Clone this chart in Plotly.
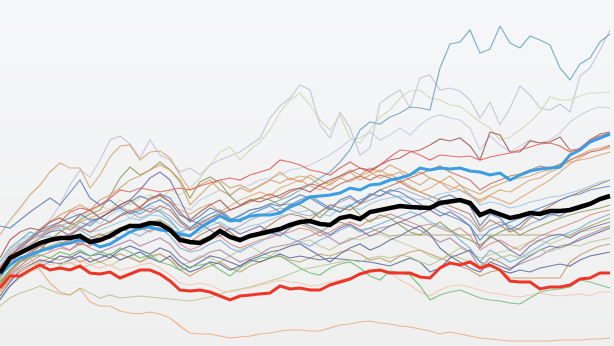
import plotly.graph_objects as go

# x positions: 62 observations (index)
N = 62
WEEKS = list(range(N))

# ---- series values (plotted on a downward-increasing scale, 0 = top) ----
black_main = [273,258,253,248,243,240,238,238,236,242,
              240,236,230,226,226,223,224,230,240,242,
              243,238,231,237,240,236,234,232,229,225,
              222,221,224,225,218,216,219,212,210,208,
              206,207,207,208,203,201,200,203,215,211,
              214,218,216,213,214,211,211,210,207,204,
              199,196]
red_main = [288,276,276,270,265,270,268,270,266,273,
            274,272,278,274,270,270,274,281,290,291,
            290,292,296,300,296,295,294,293,286,289,
            288,290,290,285,282,279,274,271,270,273,
            273,273,277,278,268,263,265,262,268,265,
            270,281,282,282,289,287,287,285,279,278,
            273,273]
blue_main = [275,265,258,255,251,248,245,243,240,242,
             247,244,238,232,228,227,230,231,234,236,
             228,222,216,221,220,216,215,215,213,207,
             203,197,196,195,193,188,190,185,184,180,
             178,175,168,170,168,169,168,171,172,175,
             173,180,175,171,169,168,167,155,150,142,
             138,134]
teal = [262,248,240,232,236,228,225,230,222,226,
        218,222,215,210,214,208,212,220,232,228,
        222,218,212,220,215,210,208,204,200,196,
        190,185,178,172,162,150,130,122,124,117,
        113,107,108,110,68,44,42,30,53,49,
        26,43,48,36,40,45,68,80,64,58,
        42,34]
lavender = [268,255,245,238,230,220,205,185,170,177,
            160,140,136,144,158,140,155,160,172,168,
            175,165,160,156,152,145,138,118,106,98,
            85,90,125,138,112,128,155,148,103,96,
            90,108,78,75,90,88,91,100,118,102,
            125,108,86,95,108,110,104,112,76,68,
            50,30]
khaki = [262,250,242,238,228,222,215,210,218,212,
         206,210,200,205,198,195,200,190,195,188,
         178,165,152,147,160,150,142,130,112,100,
         93,105,120,130,115,138,143,130,117,110,
         98,91,90,98,100,105,106,114,122,128,
         140,137,130,122,112,97,100,100,96,93,
         93,92]
tan_peak = [235,220,208,195,185,172,163,168,168,188,
            175,157,146,145,160,152,151,158,175,190,
            185,180,190,195,188,192,185,180,183,178,
            182,175,180,185,178,172,180,175,170,176,
            172,180,185,178,182,190,185,195,200,195,
            190,192,186,180,178,172,168,160,155,150,
            148,145]
lavender_2 = [268,255,248,240,235,230,225,228,222,218,
              224,215,210,218,212,205,210,203,205,210,
              200,195,190,196,188,185,180,178,175,170,
              168,165,160,155,148,140,138,132,140,135,
              128,135,125,118,115,118,120,128,150,136,
              145,152,146,140,143,140,133,122,115,110,
              107,108]
brown_dark = [258,240,232,228,230,222,218,224,215,210,
              218,212,205,200,208,198,195,202,215,220,
              212,205,200,210,206,200,202,198,195,190,
              188,192,185,180,176,172,168,170,165,160,
              158,152,150,145,139,141,138,146,160,132,
              135,152,152,141,143,142,137,150,150,140,
              134,132]
red_thin = [268,255,248,240,232,228,222,212,208,210,
            205,198,190,192,188,190,192,190,188,190,
            186,183,180,178,180,175,172,169,160,162,
            165,170,172,175,168,162,168,172,165,157,
            150,151,155,160,155,156,157,156,160,157,
            155,153,150,147,144,143,146,152,148,140,
            136,133]
orange_low = [290,272,262,258,270,283,292,295,289,302,
              306,306,311,313,314,312,314,318,326,333,
              334,334,336,338,337,336,334,333,331,330,
              330,331,331,328,325,324,322,321,323,324,
              326,327,329,331,334,332,334,336,338,339,
              340,341,341,341,341,341,340,340,340,339,
              339,338]
olive_low = [306,298,293,290,286,290,294,295,288,293,
             298,295,298,297,296,297,298,299,300,301,
             299,297,294,291,289,287,284,281,278,274,
             270,268,266,264,262,260,262,258,256,258,
             255,257,262,265,260,255,258,262,265,262,
             258,255,258,255,250,252,248,245,246,242,
             240,238]
green = [282,270,262,258,255,258,252,255,250,256,
         252,255,248,252,258,255,262,265,270,267,
         265,263,270,276,268,262,258,257,256,262,
         268,273,275,268,264,262,268,276,280,271,
         273,275,286,300,295,292,290,294,298,300,
         301,303,304,298,292,290,289,287,280,282,
         285,288]
peach = [290,278,270,266,262,265,262,264,260,265,
         268,265,270,268,265,263,268,275,283,285,
         283,285,290,292,290,288,285,283,280,282,
         283,286,285,282,280,278,275,273,271,272,
         280,285,292,296,290,286,285,287,290,293,
         294,296,297,295,293,295,296,295,294,296,
         292,292]

band_slate = [226,228,220,212,205,198,205,192,180,198,
              205,200,208,202,196,200,194,198,212,222,
              216,208,212,220,216,210,208,204,206,200,
              195,198,204,210,200,196,203,194,196,190,
              192,198,204,210,198,195,200,206,226,214,
              218,230,224,216,220,214,216,210,206,204,
              200,197]
band_lightblue = [262,248,240,236,232,230,228,230,226,232,
                  230,226,222,218,220,215,216,222,232,235,
                  232,226,222,228,230,226,224,220,216,214,
                  212,210,214,216,208,205,210,204,200,198,
                  196,198,200,198,194,192,190,194,205,202,
                  204,208,206,202,200,197,196,193,190,186,
                  182,180]
band_tan = [280,262,250,240,230,222,215,210,205,210,
            200,195,188,180,176,170,165,170,182,205,
            195,185,180,188,185,190,186,180,172,180,
            176,178,185,182,176,170,175,168,172,165,
            170,175,172,178,182,176,185,190,194,188,
            184,180,178,176,172,170,165,162,160,158,
            155,152]
band_olive = [285,272,262,255,250,240,232,226,220,214,
              210,196,178,167,175,170,162,170,180,198,
              182,177,183,196,205,200,198,200,205,204,
              205,210,218,208,212,205,215,222,215,218,
              225,232,235,228,222,230,236,240,245,238,
              232,228,235,230,226,222,218,215,212,210,
              208,205]
band_purple = [276,265,252,246,238,232,230,236,228,222,
               218,212,205,200,190,178,172,180,200,220,
               224,230,236,228,234,230,226,232,236,228,
               222,226,230,235,228,224,230,236,232,226,
               222,218,214,210,216,212,218,226,248,236,
               242,250,256,246,240,236,234,238,232,228,
               225,222]
band_brown = [282,270,260,252,246,250,244,240,245,238,
              234,238,232,226,230,224,222,228,236,242,
              235,230,226,232,240,236,232,225,218,214,
              216,220,212,205,208,210,204,196,190,186,
              182,188,192,196,200,206,210,214,230,220,
              225,232,228,218,212,206,200,196,192,188,
              184,180]
band_rose = [290,276,268,262,256,252,248,250,244,246,
             240,236,238,232,228,232,226,230,244,250,
             246,240,236,244,248,244,240,238,234,232,
             228,230,236,232,226,222,226,220,218,214,
             218,222,226,224,228,232,228,236,250,244,
             240,246,250,242,236,232,228,224,220,215,
             212,210]
band_sky = [268,256,250,244,238,236,240,234,230,236,
            240,236,228,232,236,230,228,236,248,252,
            250,244,240,248,252,246,242,236,232,238,
            242,246,240,236,230,226,232,228,224,220,
            216,212,215,222,226,230,240,248,262,250,
            256,262,258,252,246,240,236,232,228,222,
            218,214]
band_darkslate = [296,282,270,265,260,262,256,258,252,256,
                  254,258,250,246,250,254,248,252,262,268,
                  262,256,258,262,266,260,256,252,250,246,
                  244,250,256,262,254,248,244,250,246,240,
                  236,230,226,234,248,256,262,268,272,262,
                  266,270,262,256,250,246,248,244,240,236,
                  232,228]
band_mauve = [288,274,266,258,252,248,246,250,242,248,
              252,248,244,240,246,242,238,244,256,262,
              258,252,250,256,262,258,254,248,246,244,
              240,236,232,238,244,240,236,232,228,226,
              222,226,230,236,242,238,246,252,268,258,
              262,268,264,260,256,250,246,244,238,234,
              230,226]
band_flat = [284,270,262,256,250,246,242,244,238,242,
             236,232,228,224,228,222,220,226,238,244,
             240,236,232,238,242,236,232,230,228,226,
             224,228,232,226,222,226,230,228,232,236,
             235,235,235,235,235,235,235,235,235,235,
             235,235,235,235,235,235,235,235,230,226,
             222,218]
band_ochre = [292,280,272,266,262,258,260,256,262,258,
              262,258,254,258,262,256,254,260,270,276,
              270,266,262,268,272,266,262,258,256,260,
              262,258,254,256,252,250,254,260,258,262,
              256,252,250,254,258,262,266,270,276,272,
              270,278,278,278,278,278,278,262,255,250,
              246,244]
band_navy = [300,286,276,270,266,262,264,260,256,262,
             258,254,260,256,252,258,262,256,266,272,
             268,262,264,270,266,260,262,258,254,258,
             256,258,260,258,259,260,261,262,264,266,
             262,258,262,272,268,258,254,250,262,266,
             270,273,270,272,268,266,264,266,260,256,
             254,252]
band_sage = [298,286,278,272,268,270,266,262,268,265,
             262,266,260,256,262,258,254,260,266,262,
             256,258,262,256,250,246,252,256,250,246,
             242,240,246,250,244,238,240,236,234,238,
             242,246,250,256,260,254,248,252,258,255,
             252,250,246,242,240,244,240,236,232,230,
             228,226]
band_steel = [272,258,246,238,230,226,222,218,214,220,
              218,212,208,214,210,204,200,206,220,228,
              220,214,210,218,222,214,210,206,212,205,
              200,196,202,208,212,206,200,196,190,194,
              198,204,210,206,212,216,220,226,240,230,
              226,222,218,212,208,204,200,196,194,190,
              188,186]
band_orange = [278,262,252,246,238,230,226,230,222,218,
               214,210,206,212,206,200,196,202,210,214,
               208,204,212,206,200,196,192,196,188,184,
               180,186,190,184,178,182,176,172,178,174,
               180,186,192,188,182,186,190,196,202,196,
               200,204,198,192,186,180,172,164,158,152,
               150,148]
band_gray = [266,252,244,240,236,232,226,222,228,224,
             218,222,216,212,218,214,210,216,226,230,
             226,220,224,230,226,220,216,212,208,210,
             214,216,212,206,202,198,204,200,196,192,
             188,192,196,200,205,210,214,220,232,226,
             222,226,230,224,220,216,212,208,205,202,
             198,195]
band_rust = [286,272,262,254,246,242,238,234,228,232,
             226,222,216,212,208,212,206,210,222,230,
             224,218,214,210,206,202,198,194,198,192,
             188,184,186,190,184,180,176,180,175,178,
             182,178,174,170,166,172,176,180,190,184,
             180,176,174,170,166,168,164,160,156,152,
             150,146]

thin_series = [
    (lavender, "#c2c0d8"), (khaki, "#d4d7b0"), (lavender_2, "#c6cbe0"),
    (tan_peak, "#d6a476"), (teal, "#6aa6bf"),
    (band_gray, "#a3a8bd"), (band_sage, "#c3cb98"), (band_ochre, "#c49a68"),
    (band_navy, "#56659a"), (band_mauve, "#a9879f"), (band_darkslate, "#5e6a98"),
    (band_flat, "#a7a26e"), (band_sky, "#79b0d8"), (band_rose, "#d68c86"),
    (band_brown, "#b47c5c"), (band_purple, "#7d70a2"), (band_olive, "#8d9b58"),
    (band_tan, "#d4a270"), (band_lightblue, "#96c6e4"), (band_slate, "#5c7eb5"),
    (band_steel, "#5289c2"), (band_orange, "#e3a578"), (band_rust, "#c46e58"),
    (brown_dark, "#a65850"), (red_thin, "#e25a52"),
    (orange_low, "#eba97c"), (olive_low, "#b8c58e"), (peach, "#f2c6aa"), (green, "#70bb70"),
]

fig = go.Figure()

for vals, col in thin_series:
    fig.add_trace(go.Scatter(x=WEEKS[:len(vals)], y=vals, mode="lines",
                             line=dict(color=col, width=1.2), opacity=0.85,
                             hoverinfo="skip"))

fig.add_trace(go.Scatter(x=WEEKS, y=blue_main, mode="lines",
                         line=dict(color="#3c9ee2", width=3), hoverinfo="skip"))
fig.add_trace(go.Scatter(x=WEEKS, y=red_main, mode="lines",
                         line=dict(color="#ee3628", width=3), hoverinfo="skip"))
fig.add_trace(go.Scatter(x=WEEKS, y=black_main, mode="lines",
                         line=dict(color="#000000", width=4.5), hoverinfo="skip"))

# background vertical gradient
shapes = []
steps = 30
top = (246, 247, 249)
bot = (239, 239, 239)
for k in range(steps):
    t = k / (steps - 1)
    c = tuple(round(top[j] + (bot[j] - top[j]) * t) for j in range(3))
    shapes.append(dict(type="rect", xref="paper", yref="paper",
                       x0=0, x1=1, y0=1 - (k + 1) / steps, y1=1 - k / steps,
                       fillcolor="rgb(%d,%d,%d)" % c, line=dict(width=0),
                       layer="below"))

fig.update_layout(
    width=614, height=346,
    margin=dict(l=0, r=0, t=0, b=0),
    paper_bgcolor="#f2f3f4", plot_bgcolor="#f2f3f4",
    showlegend=False, hovermode=False,
    xaxis=dict(visible=False, range=[0, 61.4], fixedrange=True),
    yaxis=dict(visible=False, range=[346, 0], fixedrange=True),
    shapes=shapes,
)

fig.write_html("out.html", config={"displayModeBar": False})
